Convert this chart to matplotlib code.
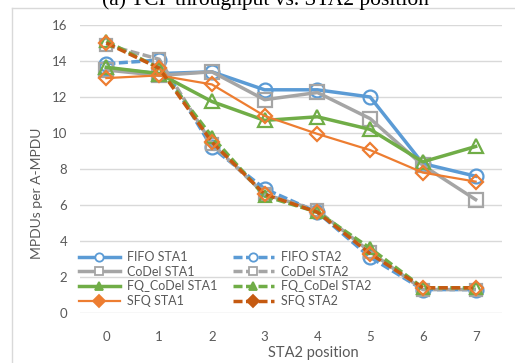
import matplotlib
matplotlib.use("Agg")
import matplotlib.pyplot as plt
from matplotlib.lines import Line2D

plt.rcParams['font.family'] = ['Lato', 'DejaVu Sans']

positions = [0, 1, 2, 3, 4, 5, 6, 7]

fifo_sta1 = [13.6, 13.3, 13.4, 12.4, 12.4, 12.0, 8.3, 7.6]
fifo_sta2 = [13.85, 14.05, 9.2, 6.9, 5.6, 3.1, 1.3, 1.3]
codel_sta1 = [13.5, 13.2, 13.4, 11.85, 12.25, 10.8, 8.2, 6.3]
codel_sta2 = [14.9, 14.1, 9.4, 6.6, 5.7, 3.4, 1.3, 1.3]
fq_codel_sta1 = [13.65, 13.3, 11.75, 10.7, 10.9, 10.2, 8.4, 9.25]
fq_codel_sta2 = [15.1, 13.6, 9.8, 6.5, 5.6, 3.6, 1.4, 1.4]
sfq_sta1 = [13.05, 13.2, 12.7, 10.95, 9.95, 9.05, 7.8, 7.3]
sfq_sta2 = [15.0, 13.6, 9.5, 6.6, 5.6, 3.3, 1.4, 1.4]

labels = ['FIFO STA1', 'FIFO STA2', 'CoDel STA1', 'CoDel STA2',
          'FQ_CoDel STA1', 'FQ_CoDel STA2', 'SFQ STA1', 'SFQ STA2']

blue = '#5B9BD5'
gray = '#A5A5A5'
green = '#70AD47'
orange = '#ED7D31'
dark_orange = '#C55A11'
text_col = '#595959'

fig = plt.figure(figsize=(5.15, 3.63), dpi=100, facecolor='white')
ax = fig.add_axes([80 / 515, 50 / 363, 422 / 515, 288 / 363])

dash = (0, (2.6, 1.0))
series = [
    (fifo_sta1, blue, '-', 'o', 2.5, 10),
    (fifo_sta2, blue, dash, 'o', 2.5, 10),
    (codel_sta1, gray, '-', 's', 2.5, 10),
    (codel_sta2, gray, dash, 's', 2.5, 9),
    (fq_codel_sta1, green, '-', '^', 2.5, 10),
    (fq_codel_sta2, green, dash, '^', 2.5, 9),
    (sfq_sta1, orange, '-', 'D', 1.6, 7),
    (sfq_sta2, dark_orange, dash, 'D', 2.5, 7),
]
for vals, col, ls, mk, lw, ms in series:
    ax.plot(positions, vals, color=col, linestyle=ls, linewidth=lw,
            marker=mk, markersize=ms, markerfacecolor='none',
            markeredgecolor=orange if mk == 'D' else col,
            markeredgewidth=1.6)

ax.set_xlim(-0.5, 7.5)
ax.set_ylim(0, 16)
ax.set_yticks(range(0, 17, 2))
ax.set_xticks(positions)
ax.grid(axis='y', color='#D9D9D9', linewidth=1)
ax.set_axisbelow(True)
for s in ax.spines.values():
    s.set_visible(False)
ax.tick_params(length=0, labelsize=9.5, labelcolor=text_col)
ax.tick_params(axis='y', pad=9)
ax.tick_params(axis='x', pad=13)

# legend with small markers like the spreadsheet
handles = []
fills = [False, False, False, False, True, True, True, True]
for (vals, col, ls, mk, lw, ms), filled in zip(series, fills):
    handles.append(Line2D([], [], color=col, linestyle=ls, linewidth=lw,
                          marker=mk, markersize=6,
                          markerfacecolor=col if filled else 'white',
                          markeredgecolor=col, markeredgewidth=1.3))
order = [0, 2, 4, 6, 1, 3, 5, 7]
leg = ax.legend([handles[i] for i in order], [labels[i] for i in order],
                ncol=2, loc='lower left', bbox_to_anchor=(-0.003, 0.02),
                frameon=False, fontsize=9, handlelength=3.3,
                handletextpad=0.55, labelspacing=0.22, columnspacing=1.25,
                borderpad=0, borderaxespad=0)
for t in leg.get_texts():
    t.set_color(text_col)

fig.text(37 / 515, 170 / 363, 'MPDUs per A-MPDU', rotation=90,
         ha='center', va='center', fontsize=10, color=text_col)
fig.text(313 / 515, 1 - 353 / 363, 'STA2 position', ha='center',
         va='center', fontsize=10.5, color=text_col)

# part of the caption above, clipped by the crop
fig.text(265 / 515, 1 - 5 / 363, '(a) TCP throughput vs. STA2 position',
         ha='center', va='baseline', fontsize=15.5,
         family='Liberation Serif', color='black')

# outer chart frame
fig.add_artist(Line2D([12 / 515, 12 / 515], [0, 1 - 8 / 363],
                      transform=fig.transFigure, color='#D9D9D9', lw=1))
fig.add_artist(Line2D([12 / 515, 1], [1 - 8 / 363, 1 - 8 / 363],
                      transform=fig.transFigure, color='#D9D9D9', lw=1))

fig.savefig('out.png', dpi=100, facecolor='white')
